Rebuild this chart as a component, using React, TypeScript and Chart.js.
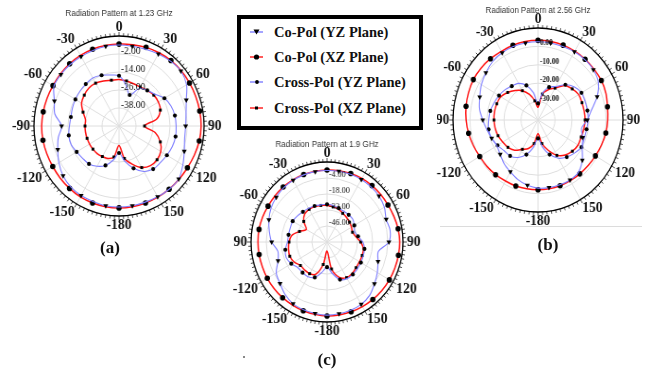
import React, { useEffect, useRef } from 'react';
import { Chart, registerables } from 'chart.js';

Chart.register(...registerables);

// Angular categories (degrees, clockwise from top)
const ANGLES = [
  '0', '10', '20', '30', '40', '50', '60', '70', '80', '90', '100', '110', '120', '130', '140', '150', '160', '170',
  '-180', '-170', '-160', '-150', '-140', '-130', '-120', '-110', '-100', '-90', '-80', '-70', '-60', '-50', '-40', '-30', '-20', '-10',
];

const SERIES_NAMES = ['Co-Pol (YZ Plane)', 'Co-Pol (XZ Plane)', 'Cross-Pol (YZ Plane)', 'Cross-Pol (XZ Plane)'];

// (a) 1.23 GHz, dB
const A_TICKS = [-50, -38, -26, -14, -2, 10];
const A_CO_YZ = [4, 4, 4.5, 5.5, 6.5, 7, 5, 0.5, -2, -3, -3, -1, 2, 5, 5, 4.5, 4, 4, 4, 4, 3.5, 3.5, 3, 1.5, -1, -4, -6.5, -9.5, -4, -1.5, 3, 3.5, 3.5, 3.5, 3.5, 4];
const A_CO_XZ = [4.6, 5, 5.8, 6.4, 7, 7.3, 7.4, 7.6, 7.8, 7.9, 7.5, 6.6, 5.7, 5.3, 5, 4.8, 4.6, 4.6, 4.6, 4.6, 4.6, 4.6, 4.3, 4.1, 4, 4.2, 4.5, 4.6, 4.3, 4, 3.8, 4, 4.2, 4.4, 4.5, 4.5];
const A_X_YZ = [-16.5, -22, -28, -21, -19, -17, -13, -11, -10, -9.7, -9.5, -10, -11, -12, -12.5, -15, -20, -26, -32, -27, -22, -19, -17, -16.5, -15.5, -14, -14, -15, -15.5, -15, -14.5, -14, -13.5, -13, -14, -15.5];
const A_X_XZ = [-19, -19.5, -20, -20, -19, -18, -18, -19, -23, -32, -24, -19, -16, -15, -15.5, -18, -23, -28, -37, -29, -27, -26.5, -26, -26, -26, -26, -26, -26, -26, -23, -19.5, -18, -17, -17, -18, -19];

// (b) 2.56 GHz, dB
const B_TICKS = [-40, -30, -20, -10, 0, 10];
const B_CO_YZ = [2.5, 2.5, 2.5, 2.8, 2.8, 2.5, 1, -3, -8, -11, -14, -12, -10, -6, -3, -2.3, -2.5, -2.7, -3, -4, -5.5, -7.5, -9, -11, -12, -11, -9.5, -7.5, -5, -3.5, -1.5, 0, 1.5, 2.2, 2.5, 2.5];
const B_CO_XZ = [3.3, 3.3, 3.3, 3.2, 3.1, 3, 3, 2.5, 1.5, 1, 0.5, -0.3, -1, -1.5, -1.8, -1.9, -2, -2.1, -2.1, -2, -1.8, -1.7, -1.2, -0.8, -0.4, 0.5, 1.5, 2.3, 3, 3.5, 3.9, 3.8, 3.5, 3.1, 3.2, 3.3];
const B_X_YZ = [-31, -25, -21, -19, -15, -12, -10.5, -10.5, -10.5, -10.5, -11, -11, -10.5, -12, -13.7, -16, -20, -25, -30, -25, -20, -16.5, -14.5, -14, -12.5, -11, -10.5, -11, -11.5, -12.5, -13.5, -14.5, -16, -17, -20, -25];
const B_X_XZ = [-33, -25.7, -22.5, -20, -15.5, -13.7, -12.4, -12.5, -12.4, -12.3, -12.6, -13, -12.8, -13.6, -15.1, -17.8, -22.5, -27, -32.5, -27, -23.5, -21.6, -18.6, -16.9, -16, -15, -14.4, -14.1, -14, -14.2, -14.7, -16.7, -19.1, -21.6, -25.2, -29.4];

// (c) 1.9 GHz, dB
const C_TICKS = [-60, -46, -32, -18, -4, 10];
const C_CO_YZ = [2.5, 2.8, 3, 3.2, 3, 2.5, 1, -2, -1, -3, -12, -10, -6.5, -3, 1, 3, 3.5, 3.8, 4, 3.5, 3, 2.5, 0, -3.5, -6, -12, -14, -9, -6, -3, -0.5, 1, 2, 2.4, 2.5, 2.5];
const C_CO_XZ = [3, 3.4, 3.8, 4.2, 4.4, 4.6, 4.8, 5.5, 6.5, 7, 6.8, 6.5, 6.3, 6, 5.6, 5.3, 5, 4.8, 4.7, 4.3, 4, 3.7, 3.6, 3.5, 3.5, 3.4, 3.5, 3.6, 3.6, 3.2, 2.7, 2.7, 2.8, 2.8, 2.8, 2.9];
const C_X_YZ = [-27, -27.5, -28.5, -29, -29, -29, -31, -33, -31, -27, -25, -24.5, -24, -23.5, -23, -23, -25, -32, -38, -33, -27, -25, -25, -25, -22, -20, -21, -23.5, -24, -24, -23.5, -24.5, -25.5, -26, -26.5, -27];
const C_X_XZ = [-28, -28.5, -29.5, -31, -32, -33, -34, -35, -33, -29, -26, -25.5, -25.5, -25, -24, -24, -27, -36, -52, -40, -30, -28, -28, -28, -25, -23.5, -24, -25, -27, -33, -38, -32, -28, -27, -27, -27.5];

const BLUE = '#7d7dff';
const RED = '#ff1414';

type PanelProps = {
  title: string;
  ticks: number[];
  series: number[][];
  radius: number;
  sx: number;
  cx: number;
  cy: number;
  titleOffset: number;
  tickFont: string;
  z: number;
};

function PolarPanel(p: PanelProps) {
  const ref = useRef<HTMLCanvasElement | null>(null);
  const pad = 40;
  const size = 2 * p.radius + 2 * pad;
  const c0 = pad + p.radius;

  useEffect(() => {
    if (!ref.current) return;
    const decor = {
      id: 'polarDecor',
      afterDraw(chart: any) {
        const scale = chart.scales.r;
        const ctx = chart.ctx as CanvasRenderingContext2D;
        const cx = scale.xCenter;
        const cy = scale.yCenter;
        const R = scale.drawingArea;
        ctx.save();
        // outer ring
        ctx.strokeStyle = '#000';
        ctx.lineWidth = 1.3;
        ctx.beginPath();
        ctx.arc(cx, cy, R, 0, Math.PI * 2);
        ctx.stroke();
        // ring ticks
        ctx.lineWidth = 0.7;
        for (let a = 0; a < 360; a += 3) {
          const rad = (a * Math.PI) / 180 - Math.PI / 2;
          const len = a % 30 === 0 ? 4 : 3;
          ctx.beginPath();
          ctx.moveTo(cx + R * Math.cos(rad), cy + R * Math.sin(rad));
          ctx.lineTo(cx + (R + len) * Math.cos(rad), cy + (R + len) * Math.sin(rad));
          ctx.stroke();
        }
        // angle labels
        ctx.fillStyle = '#111';
        ctx.font = 'bold 14.5px "Liberation Serif", "Times New Roman", serif';
        const labels = chart.data.labels as string[];
        labels.forEach((lab, i) => {
          const deg = i * (360 / labels.length);
          if (Math.round(deg) % 30 !== 0) return;
          const pos = scale.getPointPosition(i, R + 4);
          const x = pos.x;
          let y = pos.y;
          if (deg === 0 || deg === 180) ctx.textAlign = 'center';
          else if (deg < 180) ctx.textAlign = 'left';
          else ctx.textAlign = 'right';
          ctx.textBaseline = 'middle';
          const h = 10;
          if (deg === 90 || deg === 270) y = pos.y;
          else if (deg > 270 || deg < 90) y = pos.y - h / 2;
          else y = pos.y + h / 2;
          ctx.fillText(lab, x, y);
        });
        // ring value labels
        ctx.font = p.tickFont;
        ctx.textAlign = 'left';
        ctx.textBaseline = 'middle';
        ctx.fillStyle = '#111';
        const tks = scale.ticks as { value: number }[];
        tks.forEach((t, i) => {
          if (i === 0 || i === tks.length - 1) return;
          const d = scale.getDistanceFromCenterForValue(t.value);
          ctx.fillText(t.value.toFixed(2), cx + 2, cy - d - 3);
        });
        // title
        ctx.font = '8.5px "Liberation Sans", Arial, sans-serif';
        ctx.fillStyle = '#333';
        ctx.textAlign = 'center';
        ctx.fillText(p.title, cx, cy - p.titleOffset);
        ctx.restore();
      },
    };

    const styles = [
      { color: BLUE, width: 1.1, pointStyle: 'triangle', rot: 180, r: 3, every: 1 },
      { color: RED, width: 1.5, pointStyle: 'circle', rot: 0, r: 2.8, every: 0 },
      { color: BLUE, width: 1.1, pointStyle: 'circle', rot: 0, r: 2.1, every: 0 },
      { color: RED, width: 1.5, pointStyle: 'rect', rot: 0, r: 2.1, every: 1 },
    ];

    const chart = new Chart(ref.current, {
      type: 'radar',
      data: {
        labels: ANGLES,
        datasets: p.series.map((d, k) => ({
          label: SERIES_NAMES[k],
          data: d,
          borderColor: styles[k].color,
          borderWidth: styles[k].width,
          backgroundColor: 'transparent',
          fill: false,
          tension: 0.3,
          pointStyle: styles[k].pointStyle as any,
          pointRotation: styles[k].rot,
          pointRadius: (c: any) => (c.dataIndex % 2 === styles[k].every ? styles[k].r : 0),
          pointHoverRadius: 0,
          pointBackgroundColor: '#000',
          pointBorderColor: '#000',
          pointBorderWidth: 0,
        })),
      },
      options: {
        responsive: false,
        animation: false,
        events: [],
        layout: { padding: pad },
        plugins: {
          legend: { display: false },
          tooltip: { enabled: false },
          title: { display: false },
        },
        scales: {
          r: {
            min: p.ticks[0],
            max: p.ticks[p.ticks.length - 1],
            startAngle: 0,
            ticks: { display: false, stepSize: p.ticks[1] - p.ticks[0] },
            pointLabels: { display: false },
            grid: { circular: true, color: '#dedede', lineWidth: 1 },
            angleLines: {
              display: true,
              color: '#dedede',
              lineWidth: (c: any) => (c.index % 3 === 0 ? 1 : 0),
            },
          },
        },
      } as any,
      plugins: [decor],
    });
    return () => chart.destroy();
  }, []);

  return (
    <div
      style={{
        position: 'absolute',
        left: p.cx - c0,
        top: p.cy - c0,
        width: size,
        height: size,
        transform: `scaleX(${p.sx})`,
        transformOrigin: `${c0}px 50%`,
        zIndex: p.z,
      }}
    >
      <canvas ref={ref} width={size} height={size} />
    </div>
  );
}

const LEGEND_ROWS = [
  { name: SERIES_NAMES[0], color: BLUE, marker: 'tri' },
  { name: SERIES_NAMES[1], color: RED, marker: 'dot' },
  { name: SERIES_NAMES[2], color: BLUE, marker: 'small' },
  { name: SERIES_NAMES[3], color: RED, marker: 'sq' },
];

function Marker({ color, marker }: { color: string; marker: string }) {
  return (
    <svg width={16} height={10} style={{ position: 'absolute', left: 0, top: -5 }}>
      <line x1={1} y1={5} x2={14} y2={5} stroke={color} strokeWidth={1.4} />
      {marker === 'tri' && <polygon points="4.5,2.5 10.5,2.5 7.5,7.5" fill="#000" />}
      {marker === 'dot' && <circle cx={7.5} cy={5} r={2.6} fill="#000" />}
      {marker === 'small' && <circle cx={8} cy={5} r={1.9} fill="#000" />}
      {marker === 'sq' && <rect x={6} y={3.5} width={3} height={3} fill="#000" />}
    </svg>
  );
}

export default function App() {
  const serif = '"Liberation Serif", "Times New Roman", serif';
  const rowY = [32, 57, 82, 108];
  const panelLab = (t: string, x: number, y: number) => (
    <div
      style={{
        position: 'absolute',
        left: x - 20,
        top: y - 10,
        width: 40,
        textAlign: 'center',
        font: `bold 17px ${serif}`,
        lineHeight: '20px',
        color: '#111',
        zIndex: 5,
      }}
    >
      {t}
    </div>
  );
  return (
    <div
      style={{
        position: 'fixed',
        left: 0,
        top: 0,
        width: 649,
        height: 371,
        background: '#fff',
        overflow: 'hidden',
      }}
    >
      <PolarPanel
        title="Radiation Pattern at 1.9 GHz"
        ticks={C_TICKS}
        series={[C_CO_YZ, C_CO_XZ, C_X_YZ, C_X_XZ]}
        radius={80}
        sx={0.95}
        cx={327}
        cy={242}
        titleOffset={97}
        tickFont={`8.5px ${serif}`}
        z={1}
      />
      <PolarPanel
        title="Radiation Pattern at 2.56 GHz"
        ticks={B_TICKS}
        series={[B_CO_YZ, B_CO_XZ, B_X_YZ, B_X_XZ]}
        radius={92}
        sx={0.924}
        cx={538}
        cy={120}
        titleOffset={109}
        tickFont={`bold 8px ${serif}`}
        z={1}
      />
      <div style={{ position: 'absolute', left: 440, top: 226, width: 202, height: 1, background: '#dcdcdc', zIndex: 1 }} />
      {/* white backgrounds of the pasted sub-figures */}
      <div style={{ position: 'absolute', left: 0, top: 0, width: 233, height: 266, background: '#fff', zIndex: 2 }} />
      <div style={{ position: 'absolute', left: 233, top: 0, width: 204, height: 140, background: '#fff', zIndex: 2 }} />
      <PolarPanel
        title="Radiation Pattern at 1.23 GHz"
        ticks={A_TICKS}
        series={[A_CO_YZ, A_CO_XZ, A_X_YZ, A_X_XZ]}
        radius={90}
        sx={0.945}
        cx={119}
        cy={126}
        titleOffset={112}
        tickFont={`10px ${serif}`}
        z={3}
      />
      <div
        style={{
          position: 'absolute',
          left: 237,
          top: 15,
          width: 186,
          height: 115,
          border: '4px solid #000',
          boxSizing: 'border-box',
          background: '#fff',
          zIndex: 4,
        }}
      />
      {LEGEND_ROWS.map((r, i) => (
        <div key={r.name} style={{ position: 'absolute', left: 249, top: rowY[i], zIndex: 5 }}>
          <Marker color={r.color} marker={r.marker} />
          <div
            style={{
              position: 'absolute',
              left: 25,
              top: -9,
              whiteSpace: 'nowrap',
              font: `bold 14.5px ${serif}`,
              lineHeight: '18px',
              color: '#111',
            }}
          >
            {r.name}
          </div>
        </div>
      ))}
      {panelLab('(a)', 110, 248)}
      {panelLab('(b)', 548, 245)}
      {panelLab('(c)', 327, 360)}
      <div style={{ position: 'absolute', left: 243, top: 356, width: 2, height: 2, background: '#888', zIndex: 5 }} />
    </div>
  );
}
